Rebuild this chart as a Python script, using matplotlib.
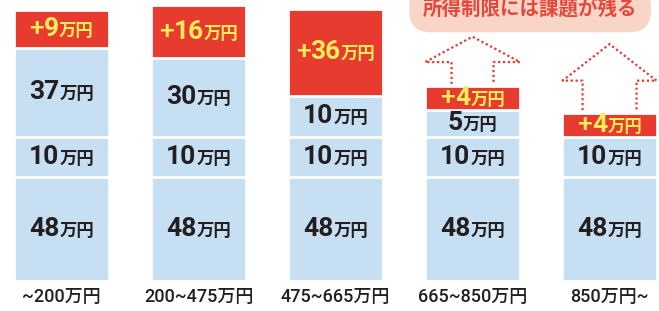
import numpy as np
import matplotlib.pyplot as plt
from matplotlib.offsetbox import TextArea, HPacker, AnnotationBbox

plt.rcParams['font.family'] = ['Roboto', 'Noto Sans CJK JP', 'DejaVu Sans']

# データ(万円)
categories = ['~200万円', '200~475万円', '475~665万円', '665~850万円', '850万円~']
base_vals = [48, 48, 48, 48, 48]
mid_vals = [10, 10, 10, 10, 10]
upper_vals = [37, 30, 10, 5, 0]
extra_vals = [9, 16, 36, 4, 4]
arrow_bars = [3, 4]
note = '所得制限には課題が残る'

BLUE = '#c7dff2'
RED = '#e63b2e'
YELLOW = '#ffec5c'
DARK = '#231f20'
CJK = ['Noto Sans CJK JP', 'DejaVu Sans']

# 元図と同じく模式的な高さ(値の0.6乗)で積み上げる
def disp(v):
    return np.asarray(v, dtype=float) ** 0.6

x = np.arange(len(categories))
h_base = disp(base_vals)
h_mid = disp(mid_vals)
h_up = disp(upper_vals)
h_ex = disp(extra_vals)
totals = h_base + h_mid + h_up + h_ex
ymax = totals.max()

fig = plt.figure(figsize=(6.59, 3.11), dpi=100)
ax = fig.add_axes([0, 0, 1, 1])
ax.set_xlim(-0.449, 4.361)
ax.set_ylim(-0.11 * ymax, 1.017 * ymax)
ax.axis('off')

w = 0.70
bottoms = np.zeros(len(x))
for h, c in [(h_base, BLUE), (h_mid, BLUE), (h_up, BLUE), (h_ex, RED)]:
    mask = h > 0
    ax.bar(x[mask], h[mask], w, bottom=bottoms[mask], color=c,
           edgecolor='white', linewidth=2)
    bottoms = bottoms + h


def value_label(xc, yc, num, color, plus=False):
    parts = []
    if plus:
        parts.append(TextArea('+', textprops=dict(fontsize=19, fontweight='medium', color=color)))
    parts.append(TextArea(num, textprops=dict(fontsize=19, fontweight='bold', color=color)))
    parts.append(TextArea('万円', textprops=dict(fontsize=12.5, fontweight='bold', color=color,
                                               family=CJK)))
    box = HPacker(children=parts, align='baseline', pad=0, sep=0)
    ab = AnnotationBbox(box, (xc, yc), frameon=False, box_alignment=(0.5, 0.5))
    ax.add_artist(ab)


for i in range(len(x)):
    y0 = 0
    for v, h in [(base_vals[i], h_base[i]), (mid_vals[i], h_mid[i]), (upper_vals[i], h_up[i])]:
        if v > 0:
            value_label(x[i], y0 + h / 2, str(v), DARK)
        y0 += h
    value_label(x[i], y0 + h_ex[i] / 2, str(extra_vals[i]), YELLOW, plus=True)

# カテゴリ名
for i, c in enumerate(categories):
    ax.text(x[i], -0.058 * ymax, c, ha='center', va='center', fontsize=13,
            fontweight='medium', color=DARK)

# 点線の矢印
arrow_shape = {3: (0.153, 0.347, 0.25, 2.4, 2.5), 4: (0.197, 0.343, 0.3, 3.2, 3.6)}
for i in arrow_bars:
    sw, hw, gap, sh, hh = arrow_shape[i]
    t = totals[i]
    xs = [x[i] - sw, x[i] - sw, x[i] - hw, x[i], x[i] + hw, x[i] + sw, x[i] + sw]
    ys = [t + gap, t + sh, t + sh, t + sh + hh, t + sh, t + sh, t + gap]
    ax.plot(xs, ys, color=RED, linewidth=1.6, linestyle=(0, (1, 1.2)))

# 吹き出し
ax.text(3.42, 0.985 * ymax, note, ha='center', va='center', fontsize=14,
        fontweight='bold', color='#e4483a', family=CJK,
        bbox=dict(boxstyle='round,pad=0.7,rounding_size=1.1', fc='#f9d5c8', ec='none'))

fig.savefig('out.png', dpi=100)
